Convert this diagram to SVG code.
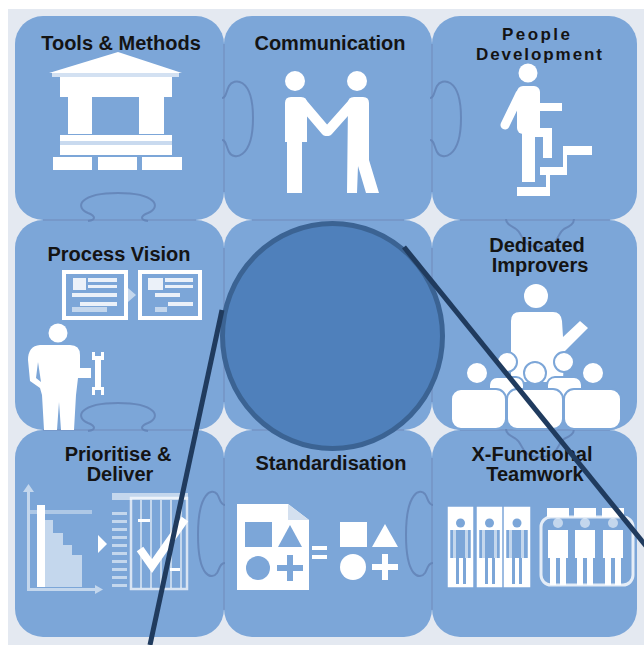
<svg xmlns="http://www.w3.org/2000/svg" width="644" height="645" viewBox="0 0 644 645">
  <defs>
    <style>
      .tile { fill: #7ca6d8; }
      .seam { stroke: #7390bf; stroke-width: 1.5; fill: none; opacity: 0.8; }
      .knob { stroke: #6383b6; stroke-width: 2; fill: none; opacity: 0.85; }
      .label { font-family: "Liberation Sans", Arial, sans-serif; font-weight: bold; font-size: 20px; fill: #141414; text-anchor: middle; }
      .small { font-size: 17px; }
      .w { fill: #ffffff; }
      .pale { fill: #ffffff; opacity: 0.55; }
      .cut { fill: #7ca6d8; }
      .lens-line { stroke: #203b5e; stroke-width: 5; stroke-linecap: butt; }
    </style>
  </defs>

  <rect width="644" height="645" fill="#ffffff"/>
  <rect x="8" y="9" width="636" height="636" fill="#e4e9f1"/>

  <!-- puzzle tiles -->
  <g id="tiles">
    <rect class="tile" x="15" y="16" width="209" height="204" rx="28"/>
    <rect class="tile" x="224" y="16" width="208" height="204" rx="28"/>
    <rect class="tile" x="432" y="16" width="205" height="204" rx="28"/>
    <rect class="tile" x="15" y="220" width="209" height="210" rx="28"/>
    <rect class="tile" x="224" y="220" width="208" height="210" rx="28"/>
    <rect class="tile" x="432" y="220" width="205" height="210" rx="28"/>
    <rect class="tile" x="15" y="430" width="209" height="207" rx="28"/>
    <rect class="tile" x="224" y="430" width="208" height="207" rx="28"/>
    <rect class="tile" x="432" y="430" width="205" height="207" rx="28"/>
  </g>

  <!-- seams and interlocking knobs -->
  <g id="seams">
    <path class="seam" d="M224,44 V192 M224,248 V402 M224,458 V610 M432,44 V192 M432,248 V402 M432,458 V610"/>
    <path class="seam" d="M43,220 H196 M252,220 H404 M460,220 H610 M43,430 H196 M252,430 H404 M460,430 H610"/>
    <path class="knob" d="M88,221 C96,220 96,216 88,213 C74,207 80,193 118,193 C156,193 162,207 148,213 C140,216 140,220 148,221"/>
    <path class="knob" d="M88,431 C96,430 96,426 88,423 C74,417 80,403 118,403 C156,403 162,417 148,423 C140,426 140,430 148,431"/>
    <path class="knob" d="M222,98 C226,98 226,92 229,86 C233,78 253,76 253,118 C253,160 233,160 229,152 C226,146 226,140 222,140"/>
    <path class="knob" d="M430,98 C434,98 434,92 437,86 C441,78 461,76 461,118 C461,160 441,160 437,152 C434,146 434,140 430,140"/>
    <path class="knob" d="M506,219 C506,224 511,226 516,229 C524,234 520,247 540,247 C560,247 556,234 564,229 C570,226 574,224 574,219"/>
    <path class="knob" d="M506,429 C506,434 511,436 516,439 C524,444 520,457 540,457 C560,457 556,444 564,439 C570,436 574,434 574,429"/>
    <path class="knob" d="M225,505 C220,505 220,498 217,494 C212,488 198,492 198,535 C198,578 212,580 217,573 C220,568 220,563 225,563"/>
    <path class="knob" d="M433,505 C428,505 428,498 425,494 C420,488 406,492 406,535 C406,578 420,580 425,573 C428,568 428,563 433,563"/>
  </g>

  <!-- Tools & Methods -->
  <g id="tools-methods">
    <text class="label" x="121" y="50">Tools &amp; Methods</text>
    <polygon class="w" points="49,73 118,52 182,73"/>
    <rect x="52" y="73" width="127" height="4" fill="#d3e1f2"/>
    <rect class="w" x="60" y="77" width="112" height="20"/>
    <rect class="w" x="68" y="97" width="24" height="37"/>
    <rect class="w" x="139" y="97" width="25" height="37"/>
    <rect class="w" x="60" y="135" width="112" height="20"/>
    <rect x="60" y="141" width="112" height="4" fill="#c9daef"/>
    <rect class="w" x="53" y="157" width="39" height="13"/>
    <rect class="w" x="98" y="157" width="39" height="13"/>
    <rect class="w" x="142" y="157" width="40" height="13"/>
  </g>

  <!-- Communication -->
  <g id="communication">
    <text class="label" x="330" y="50">Communication</text>
    <circle class="w" cx="295" cy="81" r="10"/>
    <circle class="w" cx="357" cy="81" r="10"/>
    <path class="w" d="M285,103 Q285,97 291,97 L301,97 Q307,97 307,103 L307,142 L302,142 L302,193 L287,193 L287,142 L285,142 Z"/>
    <path class="w" d="M348,103 Q348,97 354,97 L363,97 Q369,97 369,103 L369,160 L379,193 L366,193 L358,166 L357,193 L347,193 Z"/>
    <line x1="303" y1="104" x2="326" y2="131" stroke="#ffffff" stroke-width="10" stroke-linecap="round"/>
    <line x1="352" y1="104" x2="328" y2="131" stroke="#ffffff" stroke-width="10" stroke-linecap="round"/>
  </g>

  <!-- People Development -->
  <g id="people-development">
    <text class="label small" x="536" y="40" textLength="68" lengthAdjust="spacing">People</text>
    <text class="label small" x="539" y="60" textLength="126" lengthAdjust="spacing">Development</text>
    <circle class="w" cx="528" cy="73" r="9.5"/>
    <rect class="w" x="517" y="86" width="23" height="48" rx="6"/>
    <line x1="520" y1="94" x2="505" y2="125" stroke="#ffffff" stroke-width="9" stroke-linecap="round"/>
    <rect class="w" x="536" y="103" width="26" height="8"/>
    <rect class="w" x="522" y="128" width="13" height="54"/>
    <rect class="w" x="533" y="128" width="19" height="9"/>
    <rect class="w" x="543" y="128" width="9" height="30"/>
    <rect class="w" x="517" y="187" width="33" height="9"/>
    <rect class="w" x="546" y="171" width="4" height="17"/>
    <rect class="w" x="540" y="167" width="27" height="8"/>
    <rect class="w" x="563" y="151" width="4" height="17"/>
    <rect class="w" x="563" y="146" width="29" height="9"/>
  </g>

  <!-- Process Vision -->
  <g id="process-vision">
    <text class="label" x="119" y="261">Process Vision</text>
    <rect x="64" y="272" width="62" height="46" fill="none" stroke="#ffffff" stroke-width="4"/>
    <rect x="140" y="272" width="60" height="46" fill="none" stroke="#ffffff" stroke-width="4"/>
    <g class="w" opacity="0.85">
      <rect x="73" y="278" width="13" height="12"/>
      <rect x="88" y="278" width="29" height="4"/>
      <rect x="88" y="285" width="29" height="3"/>
      <rect x="72" y="293" width="45" height="4"/>
      <rect x="80" y="302" width="37" height="4"/>
      <rect x="148" y="278" width="15" height="12"/>
      <rect x="165" y="278" width="28" height="4"/>
      <rect x="165" y="285" width="28" height="3"/>
      <rect x="155" y="293" width="25" height="4"/>
      <rect x="168" y="302" width="25" height="4"/>
    </g>
    <g class="pale">
      <rect x="72" y="307" width="35" height="5"/>
      <rect x="155" y="307" width="12" height="5"/>
      <polygon points="128,288 136,295 128,302"/>
    </g>
    <circle class="w" cx="58" cy="333" r="9.5"/>
    <path class="w" d="M40,345 H70 Q80,345 80,355 L80,368 H91 V378 H78 L76,395 L74,430 H61 L59,402 L57,430 H44 L42,395 L40,388 L30,381 L28,360 Q28,346 40,345 Z"/>
    <path class="cut" d="M38,362 L36,378 L41,382 Z"/>
    <rect class="w" x="95" y="356" width="6" height="34"/>
    <path class="w" d="M92,352 H95 V357 H101 V352 H104 V360 H92 Z"/>
    <path class="w" d="M92,395 H95 V390 H101 V395 H104 V387 H92 Z"/>
  </g>

  <!-- centre tile -->
  <g id="centre"/>

  <!-- Dedicated Improvers -->
  <g id="dedicated-improvers">
    <text class="label" x="537" y="252">Dedicated</text>
    <text class="label" x="540" y="272">Improvers</text>
    <circle class="w" cx="536" cy="296" r="12"/>
    <path class="w" d="M511,321 Q511,312 520,312 H553 Q561,312 562,321 L563,337 L580,321 L588,328 L564,352 L563,382 H511 Z"/>
    <g class="w" stroke="#7ca6d8" stroke-width="2">
      <circle cx="507" cy="362" r="10"/>
      <circle cx="564" cy="362" r="10"/>
      <rect x="489" y="377" width="35" height="20" rx="8"/>
      <rect x="547" y="377" width="35" height="20" rx="8"/>
      <circle cx="477" cy="373" r="11"/>
      <circle cx="535" cy="373" r="11"/>
      <circle cx="593" cy="373" r="11"/>
      <rect x="451" y="389" width="55" height="40" rx="10"/>
      <rect x="507" y="389" width="56" height="40" rx="10"/>
      <rect x="564" y="389" width="57" height="40" rx="10"/>
    </g>
  </g>

  <!-- Prioritise & Deliver -->
  <g id="prioritise-deliver">
    <text class="label" x="118" y="461">Prioritise &amp;</text>
    <text class="label" x="120" y="481">Deliver</text>
    <g class="pale">
      <rect x="27" y="490" width="3" height="101"/>
      <polygon points="23,492 28.5,484 34,492"/>
      <rect x="27" y="588" width="70" height="3"/>
      <polygon points="95,585 103,589.5 95,594"/>
      <rect x="45" y="520" width="8" height="67"/>
      <rect x="53" y="533" width="10" height="54"/>
      <rect x="63" y="545" width="9" height="42"/>
      <rect x="72" y="555" width="10" height="32"/>
      <path d="M30,510 H92 V514 H30 Z" opacity="0.7"/>
      <rect x="112" y="493" width="76" height="7"/>
      <rect x="112" y="512" width="15" height="3"/>
      <rect x="112" y="520" width="15" height="3"/>
      <rect x="112" y="528" width="15" height="3"/>
      <rect x="112" y="536" width="15" height="3"/>
      <rect x="112" y="544" width="15" height="3"/>
      <rect x="112" y="552" width="15" height="3"/>
      <rect x="112" y="560" width="15" height="3"/>
      <rect x="112" y="568" width="15" height="3"/>
      <rect x="112" y="576" width="15" height="3"/>
      <rect x="112" y="584" width="15" height="3"/>
      <rect x="140" y="500" width="2" height="88"/>
      <rect x="150" y="500" width="2" height="88"/>
      <rect x="160" y="500" width="2" height="88"/>
      <rect x="170" y="500" width="2" height="88"/>
      <rect x="180" y="500" width="2" height="88"/>
    </g>
    <rect x="131" y="498" width="56" height="91" fill="none" stroke="#ffffff" stroke-opacity="0.7" stroke-width="2.5"/>
    <rect class="w" x="37" y="505" width="8" height="82"/>
    <polygon class="w" points="98,535 107,544 98,553"/>
    <polyline points="140,549 152,566 185,519" fill="none" stroke="#ffffff" stroke-width="8"/>
    <rect class="w" x="138" y="519" width="12" height="3"/>
    <rect class="w" x="170" y="568" width="10" height="3"/>
  </g>

  <!-- Standardisation -->
  <g id="standardisation">
    <text class="label" x="331" y="470">Standardisation</text>
    <path class="w" d="M237,504 H288 L309,520 V590 H237 Z"/>
    <path d="M288,504 V520 H309 Z" fill="#d4e0ef"/>
    <rect class="cut" x="245" y="522" width="27" height="25"/>
    <polygon class="cut" points="278,547 290,525 302,547"/>
    <circle class="cut" cx="258" cy="568" r="12"/>
    <rect class="cut" x="277" y="565" width="26" height="6"/>
    <rect class="cut" x="287" y="555" width="6" height="26"/>
    <rect class="w" x="312" y="546" width="15" height="4"/>
    <rect class="w" x="312" y="555" width="15" height="4"/>
    <rect class="w" x="340" y="522" width="27" height="25"/>
    <polygon class="w" points="372,547 385,524 398,547"/>
    <circle class="w" cx="353" cy="567" r="13"/>
    <rect class="w" x="372" y="564" width="26" height="6"/>
    <rect class="w" x="382" y="554" width="6" height="26"/>
  </g>

  <!-- X-Functional Teamwork -->
  <g id="x-functional-teamwork">
    <text class="label" x="532" y="461">X-Functional</text>
    <text class="label" x="535" y="481">Teamwork</text>
    <g id="silo-1">
      <rect x="449" y="508" width="23" height="78" fill="none" stroke="#ffffff" stroke-width="2.5"/>
      <rect class="w" x="448" y="507" width="25" height="23"/>
      <circle class="cut" cx="460.5" cy="523" r="4.5"/>
      <rect class="pale" x="453" y="530" width="3" height="28"/>
      <rect class="pale" x="465" y="530" width="3" height="28"/>
      <rect class="w" x="448" y="558" width="25" height="29"/>
      <rect class="cut" x="456" y="558" width="3" height="26"/>
      <rect class="cut" x="463" y="558" width="3" height="26"/>
    </g>
    <g id="silo-2">
      <rect x="478" y="508" width="23" height="78" fill="none" stroke="#ffffff" stroke-width="2.5"/>
      <rect class="w" x="477" y="507" width="25" height="23"/>
      <circle class="cut" cx="489.5" cy="523" r="4.5"/>
      <rect class="pale" x="482" y="530" width="3" height="28"/>
      <rect class="pale" x="494" y="530" width="3" height="28"/>
      <rect class="w" x="477" y="558" width="25" height="29"/>
      <rect class="cut" x="485" y="558" width="3" height="26"/>
      <rect class="cut" x="492" y="558" width="3" height="26"/>
    </g>
    <g id="silo-3">
      <rect x="505" y="508" width="24" height="78" fill="none" stroke="#ffffff" stroke-width="2.5"/>
      <rect class="w" x="504" y="507" width="26" height="23"/>
      <circle class="cut" cx="517" cy="523" r="4.5"/>
      <rect class="pale" x="509" y="530" width="3" height="28"/>
      <rect class="pale" x="521" y="530" width="3" height="28"/>
      <rect class="w" x="504" y="558" width="26" height="29"/>
      <rect class="cut" x="512" y="558" width="3" height="26"/>
      <rect class="cut" x="519" y="558" width="3" height="26"/>
    </g>
    <rect x="541" y="517" width="92" height="68" rx="10" fill="none" stroke="#ffffff" stroke-opacity="0.8" stroke-width="3"/>
    <g id="team">
      <rect class="w" x="547" y="508" width="22" height="9"/>
      <rect class="w" x="574" y="508" width="22" height="9"/>
      <rect class="w" x="602" y="508" width="22" height="9"/>
      <circle class="pale" cx="558" cy="523" r="5"/>
      <circle class="pale" cx="585" cy="523" r="5"/>
      <circle class="pale" cx="613" cy="523" r="5"/>
      <rect class="w" x="548" y="530" width="20" height="28"/>
      <rect class="w" x="575" y="530" width="20" height="28"/>
      <rect class="w" x="603" y="530" width="20" height="28"/>
      <rect class="w" x="550" y="558" width="6" height="27"/>
      <rect class="w" x="560" y="558" width="6" height="27"/>
      <rect class="w" x="577" y="558" width="6" height="27"/>
      <rect class="w" x="587" y="558" width="6" height="27"/>
      <rect class="w" x="605" y="558" width="6" height="27"/>
      <rect class="w" x="615" y="558" width="6" height="27"/>
    </g>
  </g>

  <!-- magnifier lens and its two guide lines -->
  <g id="lens">
    <ellipse cx="332.5" cy="336" rx="110" ry="112.5" fill="#4f80bb" stroke="#3b6393" stroke-width="5"/>
  </g>
  <g id="connectors">
    <line class="lens-line" x1="222" y1="310" x2="150" y2="645"/>
    <line class="lens-line" x1="404" y1="247" x2="650" y2="551"/>
  </g>
</svg>
